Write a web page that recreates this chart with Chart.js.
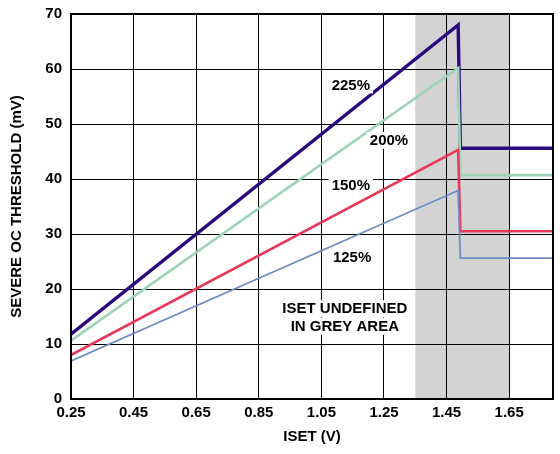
<!DOCTYPE html>
<html>
<head>
<meta charset="utf-8">
<script src="https://cdn.jsdelivr.net/npm/chart.js@4"></script>
<style>
  html, body { margin: 0; padding: 0; background: #fff; }
  #wrap { width: 560px; height: 454px; }
</style>
</head>
<body>
<div id="wrap"><canvas id="myChart" width="560" height="454"></canvas></div>
<script>
// x positions of the knots (V): start, peak, drop, end
const isetKnots = [0.25, 1.487, 1.494, 1.79];
const oc225 = [11.8, 68.0, 45.6, 45.6];
const oc200 = [10.6, 60.2, 40.7, 40.7];
const oc150 = [8.0, 45.3, 30.5, 30.5];
const oc125 = [6.9, 37.9, 25.6, 25.6];

const xTicks = [0.25, 0.45, 0.65, 0.85, 1.05, 1.25, 1.45, 1.65];
const yTicks = [0, 10, 20, 30, 40, 50, 60, 70];
const greyArea = [1.35, 1.65];

const notes = [
    { text: '225%', x: 1.144, y: 57.2 },
    { text: '200%', x: 1.266, y: 47.1 },
    { text: '150%', x: 1.144, y: 38.9 },
    { text: '125%', x: 1.148, y: 25.9 },
    { text: 'ISET UNDEFINED', x: 1.125, y: 16.5 },
    { text: 'IN GREY AREA', x: 1.125, y: 13.3 }
];

const FONT = '"Liberation Sans", Arial, sans-serif';

function toPoints(values) {
    return values.map((v, i) => ({ x: isetKnots[i], y: v }));
}

const decorPlugin = {
    id: 'decor',
    beforeDraw(chart) {
        const { ctx, chartArea, scales } = chart;
        const x0 = scales.x.getPixelForValue(greyArea[0]);
        const x1 = scales.x.getPixelForValue(greyArea[1]);
        ctx.save();
        ctx.fillStyle = '#d3d3d3';
        ctx.fillRect(x0, chartArea.top, x1 - x0, chartArea.bottom - chartArea.top);
        ctx.restore();
    },
    afterDatasetsDraw(chart) {
        const { ctx, chartArea, scales } = chart;
        ctx.save();
        ctx.font = 'bold 15px ' + FONT;
        ctx.textAlign = 'center';
        ctx.textBaseline = 'middle';
        notes.forEach(n => {
            const px = scales.x.getPixelForValue(n.x);
            const py = scales.y.getPixelForValue(n.y);
            const w = ctx.measureText(n.text).width;
            ctx.fillStyle = '#fff';
            ctx.fillRect(px - w / 2 - 3, py - 8, w + 6, 17);
            ctx.fillStyle = '#000';
            ctx.fillText(n.text, px, py + 1);
        });
        ctx.strokeStyle = '#000';
        ctx.lineWidth = 2;
        ctx.strokeRect(chartArea.left, chartArea.top, chartArea.right - chartArea.left, chartArea.bottom - chartArea.top);
        ctx.restore();
    }
};

const ctx = document.getElementById('myChart').getContext('2d');
const myChart = new Chart(ctx, {
    type: 'line',
    data: {
        datasets: [
            { label: '125%', data: toPoints(oc125), borderColor: '#6b8cc4', borderWidth: 1.8 },
            { label: '150%', data: toPoints(oc150), borderColor: '#e8385a', borderWidth: 2.6 },
            { label: '200%', data: toPoints(oc200), borderColor: '#9dd4b8', borderWidth: 2.6 },
            { label: '225%', data: toPoints(oc225), borderColor: '#2b0a80', borderWidth: 3.4 }
        ]
    },
    options: {
        responsive: false,
        animation: false,
        layout: { padding: { top: 14, right: 7, left: 0, bottom: 0 } },
        elements: { point: { radius: 0 }, line: { tension: 0, fill: false } },
        plugins: { legend: { display: false }, tooltip: { enabled: false } },
        scales: {
            x: {
                type: 'linear',
                min: 0.25,
                max: 1.79,
                afterBuildTicks(scale) { scale.ticks = xTicks.map(v => ({ value: v })); },
                afterFit(scale) { scale.height = 55; scale.paddingLeft = 0; scale.paddingRight = 0; },
                grid: { color: '#000', lineWidth: 1, drawTicks: false },
                border: { display: false },
                ticks: {
                    color: '#000',
                    font: { family: FONT, size: 15, weight: 'bold' },
                    padding: 5,
                    maxRotation: 0,
                    autoSkip: false,
                    callback: v => v.toFixed(2)
                },
                title: {
                    display: true,
                    text: 'ISET (V)',
                    color: '#000',
                    font: { family: FONT, size: 15, weight: 'bold' },
                    padding: { top: 0, bottom: 8 }
                }
            },
            y: {
                min: 0,
                max: 70,
                afterBuildTicks(scale) { scale.ticks = yTicks.map(v => ({ value: v })); },
                afterFit(scale) { scale.width = 71; scale.paddingTop = 0; scale.paddingBottom = 0; },
                grid: { color: '#000', lineWidth: 1, drawTicks: false },
                border: { display: false },
                ticks: {
                    color: '#000',
                    font: { family: FONT, size: 15, weight: 'bold' },
                    padding: 9
                },
                title: {
                    display: true,
                    text: 'SEVERE OC THRESHOLD (mV)',
                    color: '#000',
                    font: { family: FONT, size: 15, weight: 'bold' },
                    padding: { top: 8, bottom: 0 }
                }
            }
        }
    },
    plugins: [decorPlugin]
});
</script>
</body>
</html>
